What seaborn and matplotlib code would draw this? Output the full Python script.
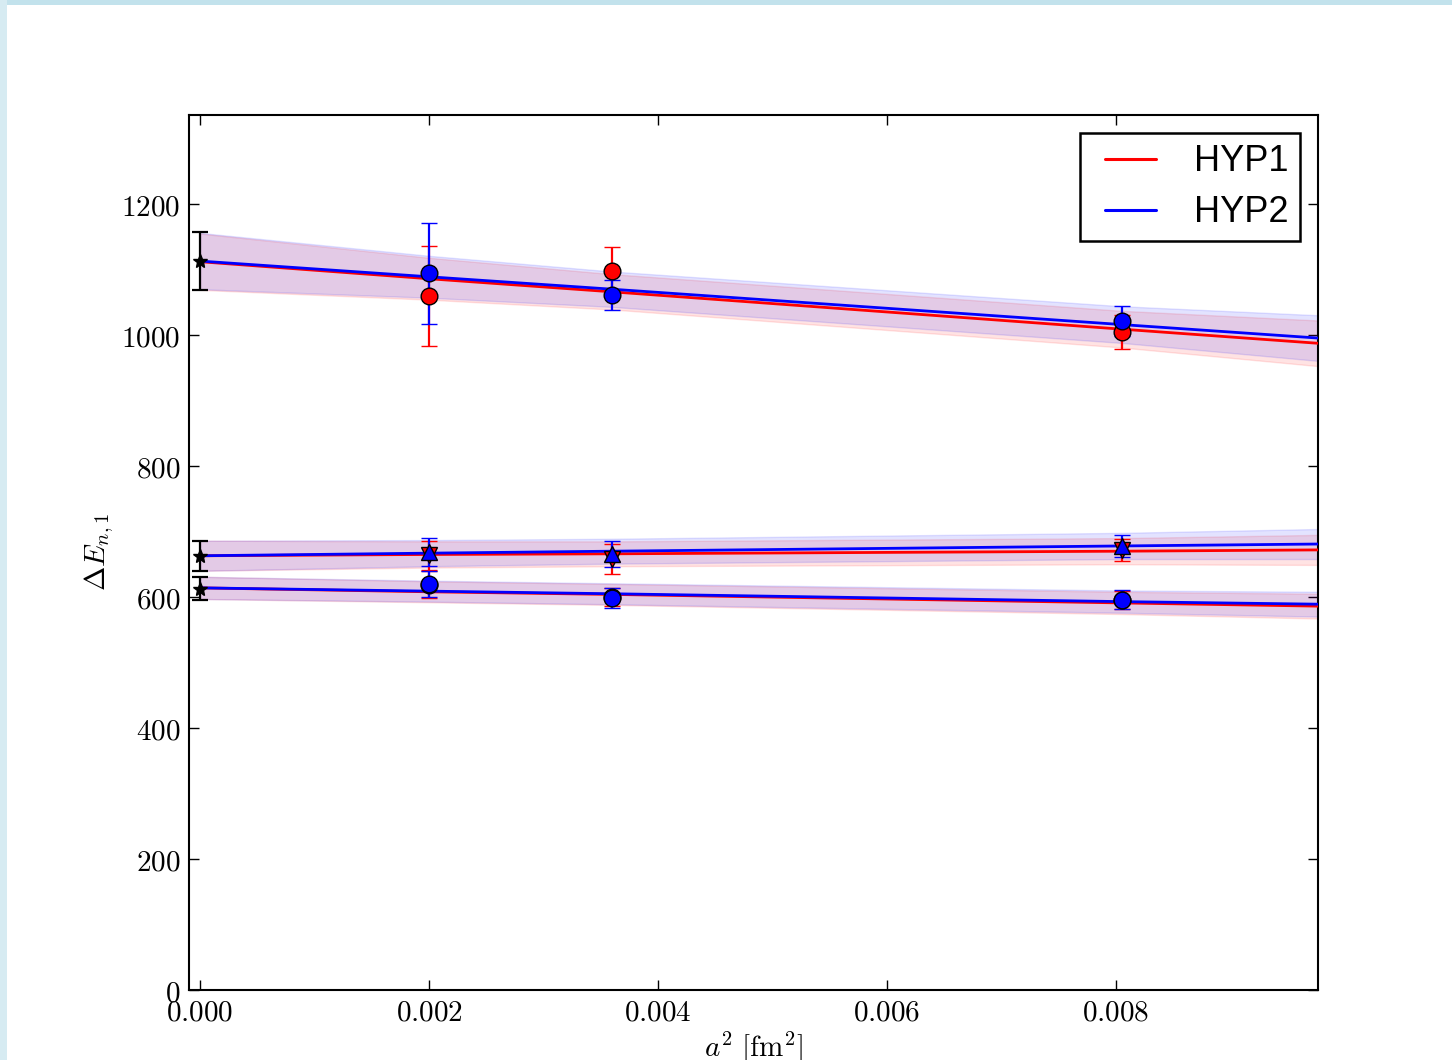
import numpy as np
import pandas as pd
import matplotlib
matplotlib.use("Agg")
import matplotlib.pyplot as plt
from matplotlib.patches import Rectangle
from matplotlib.ticker import FuncFormatter
from matplotlib.lines import Line2D
from matplotlib.legend_handler import HandlerLine2D
import seaborn as sns

# ---------------- data ----------------
a2 = [0.002, 0.0036, 0.00805]

# top group (circles)
top_hyp1 = [1060, 1098, 1005]
top_hyp1_err = [76, 36, 26]
top_hyp2 = [1094, 1061, 1022]
top_hyp2_err = [77, 23, 23]
# middle group (triangles)
mid_hyp1 = [664, 658, 672]
mid_hyp1_err = [22, 23, 17]
mid_hyp2 = [669, 666, 678]
mid_hyp2_err = [21, 20, 17]
# bottom group (circles)
bot_hyp1 = [619, 600, 595]
bot_hyp1_err = [20, 14, 14]
bot_hyp2 = [620, 599, 596]
bot_hyp2_err = [20, 15, 14]

# continuum values (stars at a^2 = 0)
cont_x = [0.0, 0.0, 0.0]
cont_val = [1113, 663, 613]
cont_err = [44, 23, 18]

# fit curves: centre values at nodes, and band half-widths
fit_x = [0.0, 0.002, 0.0036, 0.00805, 0.0098]
fit_top_hyp1 = [1112, 1086, 1066, 1009, 987]
fit_top_hyp2 = [1113, 1089, 1070, 1016, 995]
band_top = [43, 32, 27, 28, 35]
fit_mid_hyp1 = [663, 665, 666, 670, 672]
fit_mid_hyp2 = [663, 667, 670, 678, 681]
band_mid = [23, 20, 19, 20, 23]
fit_bot_hyp1 = [614, 608, 604, 591, 586]
fit_bot_hyp2 = [614, 609, 605, 593, 589]
band_bot = [17, 16, 16, 17, 19]

labels = ["HYP1", "HYP2"]
colors = {"HYP1": "#ff0000", "HYP2": "#0000ff"}

# ---------------- style ----------------
sns.set_theme(style="ticks")
plt.rcParams.update({
    "mathtext.fontset": "cm",
    "font.family": ["DejaVu Serif"],
    "text.color": "black",
    "axes.labelcolor": "black",
    "xtick.color": "black",
    "ytick.color": "black",
    "axes.linewidth": 1.5,
    "xtick.direction": "in",
    "ytick.direction": "in",
    "xtick.top": True,
    "ytick.right": True,
    "xtick.major.size": 7,
    "ytick.major.size": 7,
    "xtick.major.width": 1.0,
    "ytick.major.width": 1.0,
    "axes.edgecolor": "black",
})

fig = plt.figure(figsize=(14.52, 10.60), dpi=100)
fig.patch.set_facecolor("white")
fig.patches.append(Rectangle((0, 1 - 5 / 1060), 1, 5 / 1060, transform=fig.transFigure,
                             facecolor="#c2e2ec", edgecolor="none", zorder=0))
fig.patches.append(Rectangle((0, 0), 7 / 1452, 1, transform=fig.transFigure,
                             facecolor="#d6ebf2", edgecolor="none", zorder=0))

ax = fig.add_axes([189 / 1452, 70 / 1060, (1318 - 189) / 1452, (990 - 115) / 1060])

# ---------------- bands and fit lines ----------------
fx = np.array(fit_x)
groups = [
    (fit_top_hyp1, fit_top_hyp2, band_top),
    (fit_mid_hyp1, fit_mid_hyp2, band_mid),
    (fit_bot_hyp1, fit_bot_hyp2, band_bot),
]
rows = []
for gi, (f1, f2, bw) in enumerate(groups):
    for lab, f in zip(labels, (f1, f2)):
        f = np.array(f, float)
        b = np.array(bw, float)
        ax.fill_between(fx, f - b, f + b, facecolor=colors[lab], alpha=0.11,
                        edgecolor=colors[lab], linewidth=1.0, zorder=1)
        for xv, yv in zip(fit_x, f):
            rows.append({"a2": xv, "E": yv, "hyp": lab, "grp": f"{lab}_{gi}"})
df = pd.DataFrame(rows)

for lab in labels:
    sub = df[df["hyp"] == lab]
    sns.lineplot(data=sub, x="a2", y="E", units="grp", estimator=None,
                 color=colors[lab], linewidth=2.0, ax=ax, zorder=3,
                 legend=False)

# ---------------- data points ----------------
ekw = dict(linestyle="none", capsize=5.5, elinewidth=1.6, capthick=1.6,
           markeredgecolor="black", markeredgewidth=1.0, zorder=5)
pts = [
    (top_hyp1, top_hyp1_err, top_hyp2, top_hyp2_err, "o", "o", 12),
    (mid_hyp1, mid_hyp1_err, mid_hyp2, mid_hyp2_err, "v", "^", 12),
    (bot_hyp1, bot_hyp1_err, bot_hyp2, bot_hyp2_err, "o", "o", 12),
]
for y1, e1, y2, e2, m1, m2, ms in pts:
    ax.errorbar(a2, y1, yerr=e1, marker=m1, markersize=ms, color=colors["HYP1"],
                markerfacecolor=colors["HYP1"], ecolor=colors["HYP1"], **ekw)
    ax.errorbar(a2, y2, yerr=e2, marker=m2, markersize=ms, color=colors["HYP2"],
                markerfacecolor=colors["HYP2"], ecolor=colors["HYP2"], **ekw)

ax.errorbar(cont_x, cont_val, yerr=cont_err, marker="*", markersize=10,
            linestyle="none", color="black", ecolor="black", capsize=5.5,
            elinewidth=1.6, capthick=1.6, zorder=6)


# ---------------- legend ----------------
class OffsetLineHandler(HandlerLine2D):
    """Line handle drawn in the right part of the handle box (old-style legend look)."""
    def get_xdata(self, legend, xdescent, ydescent, width, height, fontsize):
        off = 0.21 * width
        xdata = np.array([-xdescent + off, width - xdescent], float)
        return xdata, xdata


handles = [Line2D([], [], color=colors[l], linewidth=2.2) for l in labels]
leg = ax.legend(handles, labels, loc="upper right", frameon=True, fancybox=False,
                prop={"family": "Liberation Sans", "size": 26},
                handlelength=1.8, handletextpad=1.05, borderpad=0.31,
                labelspacing=0.44, borderaxespad=0.5, labelcolor="black",
                handler_map={Line2D: OffsetLineHandler()})
leg.get_frame().set_edgecolor("black")
leg.get_frame().set_linewidth(1.8)
leg.get_frame().set_alpha(1.0)

# ---------------- axes ----------------
ax.set_xlim(-0.000096, 0.009764)
ax.set_ylim(0, 1336)
ax.set_xticks([0.000, 0.002, 0.004, 0.006, 0.008])
ax.set_yticks([0, 200, 400, 600, 800, 1000, 1200])
ax.xaxis.set_major_formatter(FuncFormatter(lambda v, p: r"$\mathrm{%.3f}$" % v))
ax.yaxis.set_major_formatter(FuncFormatter(lambda v, p: r"$\mathrm{%d}$" % round(v)))
ax.tick_params(axis="both", labelsize=21, pad=6, colors="black")
ax.set_xlabel(r"$a^2\ [\mathrm{fm}^2]$", fontsize=21, labelpad=2, color="black")
ax.set_ylabel(r"$\Delta E_{n,1}$", fontsize=21, labelpad=4, color="black")
for s in ax.spines.values():
    s.set_color("black")
    s.set_linewidth(1.5)
ax.set_facecolor("white")

fig.savefig("out.png", dpi=100, facecolor=fig.get_facecolor())
